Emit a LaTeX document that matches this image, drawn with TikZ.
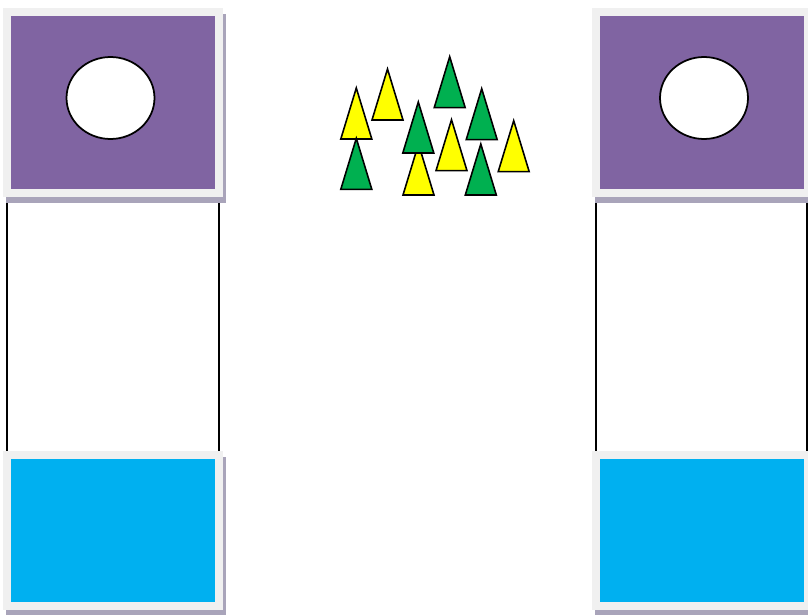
\documentclass[tikz,border=0pt]{standalone}
\usepackage{xcolor}
\usepackage{tikz}
\usetikzlibrary{shapes.geometric, shadows, backgrounds}

\definecolor{framegray}{HTML}{F0F0F0}
\definecolor{shadowgray}{HTML}{A9A4BA}
\definecolor{roofpurple}{HTML}{8064A2}
\definecolor{poolblue}{HTML}{00B0F0}
\definecolor{treegreen}{HTML}{00B050}
\definecolor{treeyellow}{HTML}{FFFF00}

\begin{document}
\begin{tikzpicture}[
    x=0.02cm, y=-0.02cm,
    panel/.style={rectangle, draw=framegray, line width=0.16cm, inner sep=0pt, outer sep=0pt,
        minimum width=4.24cm,
        drop shadow={shadow xshift=0.06cm, shadow yshift=-0.12cm, opacity=1,
            fill=shadowgray, draw=shadowgray, line width=0.16cm}},
    roof/.style={panel, fill=roofpurple, minimum height=3.62cm},
    pool/.style={panel, fill=poolblue, minimum height=3.02cm},
    hole/.style={ellipse, draw, fill=white, line width=1pt, minimum width=1.76cm, minimum height=1.64cm},
    post/.style={line width=1pt}
]
    \useasboundingbox (0,0) rectangle (808,615);

    % Top boxes
    \node[roof] (roofL) at (113,102.5) {};
    \node[roof] (roofR) at (702,102.5) {};
    \node[hole] (holeL) at (110.5,98) {};
    \node[hole] (holeR) at (704,98) {};

    % Bottom boxes
    \node[pool] (poolL) at (113,530.5) {};
    \node[pool] (poolR) at (702,530.5) {};

    % Posts
    \begin{scope}[on background layer]
        \draw[post] (roofL.south west) -- (poolL.north west);
        \draw[post] (roofL.south east) -- (poolL.north east);
        \draw[post] (roofR.south west) -- (poolR.north west);
        \draw[post] ([xshift=-0.02cm]roofR.south east) -- ([xshift=-0.02cm]poolR.north east);
    \end{scope}

    % Trees
    \foreach \x/\y/\c in {418.5/195/treeyellow, 356.3/139/treeyellow, 387.5/120/treeyellow,
        449.7/107.7/treegreen, 481.7/139.7/treegreen, 356.3/189.3/treegreen,
        418.3/153/treegreen, 451.5/170.7/treeyellow, 480.8/195/treegreen,
        513.7/171.7/treeyellow}
        \draw[fill=\c, line width=0.9pt, line join=miter]
            (\x-15.5,\y) -- (\x,\y-51) -- (\x+15.5,\y) -- cycle;
\end{tikzpicture}
\end{document}
